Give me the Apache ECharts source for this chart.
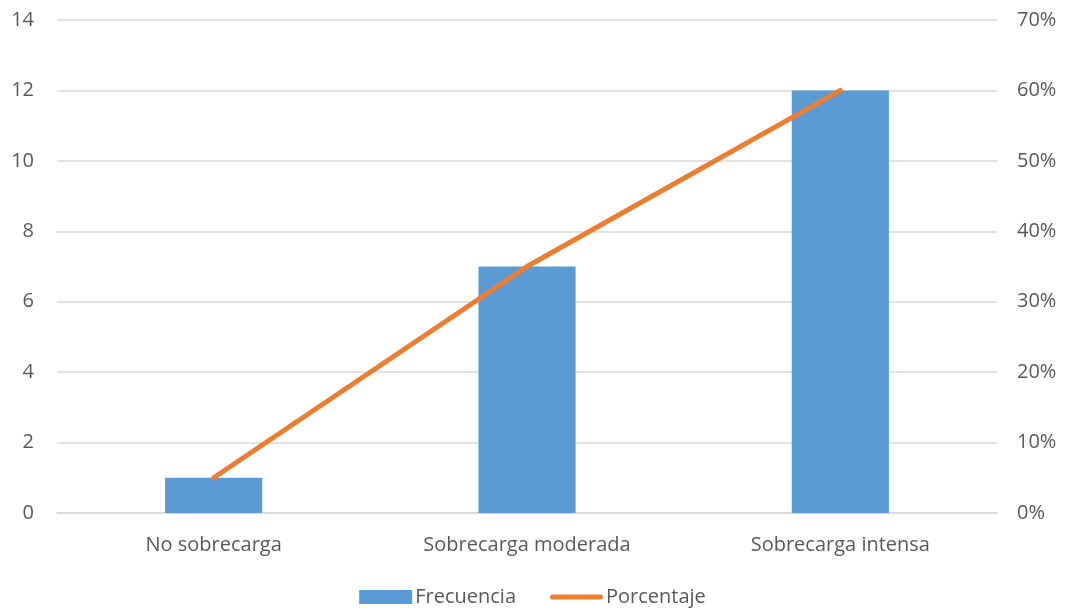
<!DOCTYPE html>
<html>
<head>
<meta charset="utf-8">
<script src="https://cdn.jsdelivr.net/npm/echarts@6/dist/echarts.min.js"></script>
<style>
  html, body { margin: 0; padding: 0; background: #fff; }
  #main { width: 1065px; height: 612px; }
</style>
</head>
<body>
<div id="main"></div>
<script>
var categories = ["No sobrecarga", "Sobrecarga moderada", "Sobrecarga intensa"];
var frecuencia = [1, 7, 12];
var porcentaje = [5, 35, 60];

var labelColor = "#595959";
var font = "Open Sans";

var myChart = echarts.init(document.getElementById("main"));
myChart.setOption({
  animation: false,
  textStyle: { fontFamily: font },
  grid: { left: 57, right: 68, top: 20, bottom: 99 },
  legend: {
    bottom: 0,
    left: "center",
    itemGap: 34,
    itemWidth: 53,
    itemHeight: 14,
    textStyle: { color: labelColor, fontSize: 20, fontFamily: font, padding: [0, 0, 0, -2] },
    data: [
      { name: "Frecuencia", icon: "rect" },
      { name: "Porcentaje", icon: "path://M2,0 L51,0 Q53,0 53,2.5 Q53,5 51,5 L2,5 Q0,5 0,2.5 Q0,0 2,0 Z" }
    ]
  },
  xAxis: {
    type: "category",
    data: categories,
    axisTick: { show: false },
    axisLine: { lineStyle: { color: "#d9d9d9", width: 1.5 } },
    axisLabel: { color: labelColor, fontSize: 20, margin: 22 }
  },
  yAxis: [
    {
      type: "value",
      min: 0,
      max: 14,
      interval: 2,
      axisLine: { show: false },
      axisTick: { show: false },
      axisLabel: { color: labelColor, fontSize: 20, margin: 23 },
      splitLine: { lineStyle: { color: "#d9d9d9", width: 1.5 } }
    },
    {
      type: "value",
      min: 0,
      max: 70,
      interval: 10,
      axisLine: { show: false },
      axisTick: { show: false },
      axisLabel: { color: labelColor, fontSize: 20, margin: 20, formatter: "{value}%" },
      splitLine: { show: false }
    }
  ],
  series: [
    {
      name: "Frecuencia",
      type: "bar",
      data: frecuencia,
      barWidth: "31%",
      itemStyle: { color: "#5B9BD5" }
    },
    {
      name: "Porcentaje",
      type: "line",
      yAxisIndex: 1,
      data: porcentaje,
      symbol: "none",
      lineStyle: { color: "#ED7D31", width: 5, cap: "round" },
      itemStyle: { color: "#ED7D31" }
    }
  ]
});
</script>
</body>
</html>
